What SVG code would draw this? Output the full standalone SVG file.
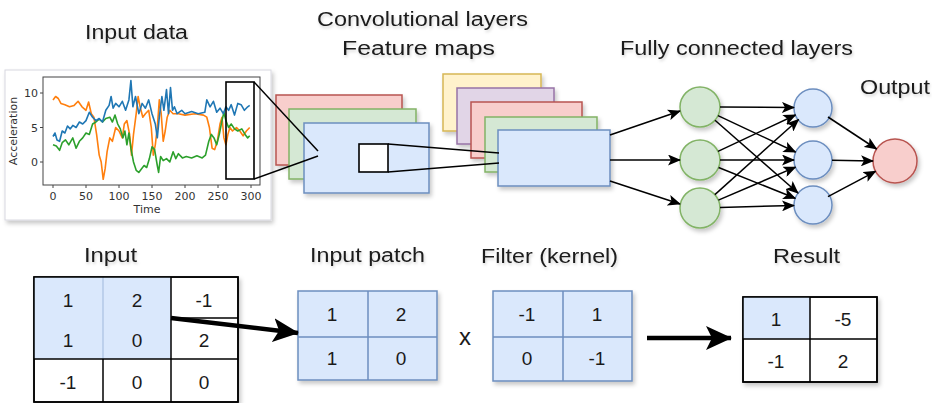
<svg xmlns="http://www.w3.org/2000/svg" width="932" height="403" viewBox="0 0 932 403">
<defs>
  <filter id="sh" x="-20%" y="-20%" width="150%" height="150%">
    <feDropShadow dx="2" dy="3" stdDeviation="2" flood-color="#000" flood-opacity="0.22"/>
  </filter>
  <filter id="tsh" x="-10%" y="-30%" width="120%" height="170%">
    <feDropShadow dx="1" dy="2" stdDeviation="1.5" flood-color="#000" flood-opacity="0.18"/>
  </filter>
  <marker id="ah" markerUnits="userSpaceOnUse" markerWidth="13" markerHeight="11" refX="12" refY="5.5" orient="auto">
    <path d="M0,0 L13,5.5 L0,11 L3,5.5 Z" fill="#000"/>
  </marker>
  <marker id="bah" markerUnits="userSpaceOnUse" markerWidth="26" markerHeight="24" refX="25" refY="12" orient="auto">
    <path d="M0,0 L26,12 L0,24 L6,12 Z" fill="#000"/>
  </marker>
</defs>
<style>
  .t{font-family:"Liberation Sans",Arial,sans-serif;font-size:20px;fill:#1a1a1a;text-anchor:middle;}
  .n{font-family:"Liberation Sans",Arial,sans-serif;font-size:19px;fill:#1a1a1a;text-anchor:middle;}
  .ax{font-family:"DejaVu Sans","Liberation Sans",sans-serif;font-size:11px;fill:#333;}
  .blue{fill:#dae8fc;stroke:#6c8ebf;stroke-width:1.5;}
  .green{fill:#d5e8d4;stroke:#82b366;stroke-width:1.5;}
  .red{fill:#f8cecc;stroke:#b85450;stroke-width:1.5;}
  .yellow{fill:#fff2cc;stroke:#d6b656;stroke-width:1.5;}
  .purple{fill:#e1d5e7;stroke:#9673a6;stroke-width:1.5;}
  .edge{stroke:#000;stroke-width:1.5;fill:none;marker-end:url(#ah);}
  .big{stroke:#000;stroke-width:4.5;fill:none;marker-end:url(#bah);}
  .ser{fill:none;stroke-width:1.6;stroke-linejoin:round;}
</style>
<rect width="932" height="403" fill="#fff"/>

<!-- Titles -->
<g id="labels" filter="url(#tsh)">
  <text class="t" x="136.5" y="39" textLength="103" lengthAdjust="spacingAndGlyphs">Input data</text>
  <text class="t" x="422.5" y="26" textLength="211" lengthAdjust="spacingAndGlyphs">Convolutional layers</text>
  <text class="t" x="418.5" y="55" textLength="153" lengthAdjust="spacingAndGlyphs">Feature maps</text>
  <text class="t" x="736.5" y="55" textLength="233" lengthAdjust="spacingAndGlyphs">Fully connected layers</text>
  <text class="t" x="895" y="94" textLength="70" lengthAdjust="spacingAndGlyphs">Output</text>
  <text class="t" x="110.5" y="262" textLength="53" lengthAdjust="spacingAndGlyphs">Input</text>
  <text class="t" x="367.5" y="262" textLength="115" lengthAdjust="spacingAndGlyphs">Input patch</text>
  <text class="t" x="549.5" y="263" textLength="137" lengthAdjust="spacingAndGlyphs">Filter (kernel)</text>
  <text class="t" x="806.5" y="263" textLength="67" lengthAdjust="spacingAndGlyphs">Result</text>
</g>

<!-- Input data plot -->
<g id="plot">
  <rect x="5" y="70" width="266" height="150" fill="#fff" stroke="#d8d8e0" stroke-width="1" filter="url(#sh)"/>
  <rect x="43" y="77" width="217" height="108" fill="#fff" stroke="#444" stroke-width="1"/>
  <g stroke="#444" stroke-width="1">
    <line x1="40" y1="93" x2="43" y2="93"/><line x1="40" y1="127.5" x2="43" y2="127.5"/><line x1="40" y1="162" x2="43" y2="162"/>
    <line x1="53" y1="185" x2="53" y2="188"/><line x1="86" y1="185" x2="86" y2="188"/><line x1="119" y1="185" x2="119" y2="188"/>
    <line x1="152" y1="185" x2="152" y2="188"/><line x1="185" y1="185" x2="185" y2="188"/><line x1="218" y1="185" x2="218" y2="188"/><line x1="251" y1="185" x2="251" y2="188"/>
  </g>
  <g class="ax" text-anchor="end">
    <text x="38" y="97">10</text><text x="38" y="131.5">5</text><text x="38" y="166">0</text>
  </g>
  <g class="ax" text-anchor="middle">
    <text x="53" y="200">0</text><text x="86" y="200">50</text><text x="119" y="200">100</text><text x="152" y="200">150</text>
    <text x="185" y="200">200</text><text x="218" y="200">250</text><text x="251" y="200">300</text>
    <text x="147" y="213">Time</text>
    <text x="0" y="0" transform="translate(17,131) rotate(-90)">Acceleration</text>
  </g>
  <polyline class="ser" stroke="#ff7f0e" points="53,99.9 55.6,96.5 58.3,98.5 60.9,103.4 64.9,104.7 69.5,106.8 74.1,105.4 78.1,101.3 82,106.8 86,110.3 88.6,102 91.3,113.7 93.9,117.2 96.6,134.4 99.2,155.1 101.2,162 103.2,179.3 105.1,168.9 107.1,151.7 109.8,137.9 112.4,141.3 115.7,127.5 119,131 122.3,137.9 124.3,124 126.9,120.6 129.6,134.4 131.5,155.1 133.5,134.4 136.2,113.7 138.1,96.5 140.1,106.8 142.8,117.2 145.4,113.7 148.7,110.3 151.3,127.5 153.3,155.1 155.3,144.8 157.3,127.5 159.3,99.9 161.2,113.7 163.2,141.3 165.2,131 167.2,117.2 169.8,110.3 173.1,113.7 178.4,113.7 185,115.1 194.9,113.7 203.5,115.1 206.8,117.2 209.4,127.5 212.1,148.2 214.7,149.6 217.3,141.3 220,124 222,117.2 223.9,137.9 225.9,144.8 227.9,134.4 229.9,127.5 232.5,131 236.5,127.5 239.8,131 243.1,135.8 246.4,131 249.7,127.5"/>
  <polyline class="ser" stroke="#2ca02c" points="53,144.8 56.3,146.1 59.6,150.3 62.2,142.7 65.5,139.9 68.8,144.8 72.8,137.9 76.1,148.2 79.4,141.3 82.7,137.9 86,133 89.3,134.4 92.6,124 95.9,122 99.2,119.2 102.5,122 105.8,118.5 109.8,117.2 112.4,122 115,115.1 117.7,124 120.3,128.9 122.9,137.9 124.9,131 126.9,144.8 128.9,133 130.9,148.2 133.5,162 136.2,170.3 138.8,172.4 141.4,168.9 144.1,165.5 146.7,167.5 149.4,158.6 152,146.8 154.6,149.6 157.3,165.5 158.6,172.4 160.6,156.5 163.2,160.6 166.5,158.6 169.8,162 173.1,151.7 175.8,158.6 178.4,153.7 182.4,157.9 186.3,156.5 191.6,157.9 196.9,155.8 202.2,157.9 205.5,155.1 208.8,141.3 211.4,134.4 214,137.9 216.7,144.8 219.3,134.4 222,120.6 223.9,112.3 225.9,120.6 228.6,127.5 231.2,124 234.5,128.9 237.8,131 241.8,128.9 245.1,134.4 247.7,137.9 249.7,135.8"/>
  <polyline class="ser" stroke="#1f77b4" points="53,136.5 55,133 57,140 59.6,141.3 62.2,131 64.9,133 67.5,126 70.2,128.9 72.8,125.4 76.1,127.5 79.4,122 82.7,124 86,120.6 89.3,112.3 92.6,117.2 95.9,120.6 99.2,118.5 102.5,122 105.8,110.3 109.1,105.4 111.1,96.5 113.1,108.2 115.7,103.4 119,106.8 122.3,101.3 125.6,110.3 128.9,99.9 130.9,80.6 132.9,106.8 135.5,96.5 138.8,113.7 142.1,103.4 145.4,108.2 148.7,99.9 152,113.7 155.3,124 157.3,137.8 159.3,117.2 161.9,96.5 163.9,110.3 166.5,89.5 168.5,113.7 170.5,87.5 172.5,110.3 174.4,106.8 177.1,113.7 181.7,110.3 185,113.7 191.6,111.6 198.2,113.7 204.8,112.3 206.8,99.9 210.1,106.8 213.4,101.3 216.7,112.3 220,108.2 223.3,113.7 225.9,106.8 228.6,110.3 231.2,104.7 234.5,115.1 237.8,103.4 241.1,104.7 244.4,110.3 247.7,106.8 249.7,105.4"/>
  <rect x="226" y="82" width="28" height="97" fill="none" stroke="#000" stroke-width="1.6"/>
</g>

<!-- Convolutional layer stack 1 -->
<g id="conv1" filter="url(#sh)">
  <rect class="red" x="276" y="95" width="126" height="70"/>
  <rect class="green" x="289" y="109" width="127" height="70"/>
  <rect class="blue" x="304" y="123" width="125" height="70"/>
</g>
<g id="patch">
  <rect x="359" y="144" width="29" height="28" fill="#fff" stroke="#000" stroke-width="1.6"/>
</g>

<!-- Feature maps stack 2 -->
<g id="conv2" filter="url(#sh)">
  <rect class="yellow" x="443" y="74" width="98" height="57"/>
  <rect class="purple" x="457" y="88" width="97" height="56"/>
  <rect class="red" x="471" y="102" width="111" height="56"/>
  <rect class="green" x="485" y="117" width="112" height="55"/>
  <rect class="blue" x="498" y="130" width="112" height="56"/>
</g>

<!-- Fully connected nodes -->
<g id="g1" filter="url(#sh)"><circle class="green" cx="700" cy="107" r="20"/></g>
<g id="g2" filter="url(#sh)"><circle class="green" cx="700" cy="160" r="20"/></g>
<g id="g3" filter="url(#sh)"><circle class="green" cx="700" cy="208" r="20"/></g>
<g id="b1" filter="url(#sh)"><circle class="blue" cx="813" cy="108" r="19"/></g>
<g id="b2" filter="url(#sh)"><circle class="blue" cx="813" cy="160" r="19"/></g>
<g id="b3" filter="url(#sh)"><circle class="blue" cx="813" cy="205" r="19"/></g>
<g id="out" filter="url(#sh)"><circle class="red" cx="895" cy="161" r="22"/></g>

<!-- Bottom grids -->
<g id="inputGrid" filter="url(#sh)">
  <rect x="34" y="277" width="204" height="125" fill="#fff" stroke="#000" stroke-width="1.5"/>
  <rect x="34" y="277" width="137" height="82" fill="#dae8fc"/>
  <line x1="103" y1="277" x2="103" y2="359" stroke="#9fb8dc" stroke-width="1"/>
  <line x1="171" y1="277" x2="171" y2="402" stroke="#000" stroke-width="1.5"/>
  <line x1="103" y1="359" x2="103" y2="402" stroke="#000" stroke-width="1.5"/>
  <line x1="34" y1="359" x2="238" y2="359" stroke="#000" stroke-width="1.5"/>
  <line x1="171" y1="318" x2="238" y2="318" stroke="#000" stroke-width="1.5"/>
  <rect x="34" y="277" width="204" height="125" fill="none" stroke="#000" stroke-width="1.5"/>
</g>
<g id="inputNums" class="n">
  <text x="68" y="307">1</text><text x="137" y="307">2</text><text x="204" y="307">-1</text>
  <text x="68" y="347">1</text><text x="137" y="347">0</text><text x="204" y="347">2</text>
  <text x="68" y="389">-1</text><text x="137" y="389">0</text><text x="204" y="389">0</text>
</g>

<g id="patchGrid" filter="url(#sh)">
  <rect class="blue" x="298" y="291" width="139" height="89"/>
  <line x1="368" y1="291" x2="368" y2="380" stroke="#6c8ebf" stroke-width="1.5"/>
  <line x1="298" y1="337" x2="437" y2="337" stroke="#6c8ebf" stroke-width="1.5"/>
</g>
<g id="patchNums" class="n">
  <text x="332" y="321">1</text><text x="401" y="321">2</text>
  <text x="332" y="365">1</text><text x="401" y="365">0</text>
</g>

<g id="times"><text class="n" x="465" y="345" style="font-size:24px">x</text></g>

<g id="filterGrid" filter="url(#sh)">
  <rect class="blue" x="493" y="291" width="139" height="90"/>
  <line x1="563" y1="291" x2="563" y2="381" stroke="#6c8ebf" stroke-width="1.5"/>
  <line x1="493" y1="337" x2="632" y2="337" stroke="#6c8ebf" stroke-width="1.5"/>
</g>
<g id="filterNums" class="n">
  <text x="527" y="321">-1</text><text x="597" y="321">1</text>
  <text x="527" y="365">0</text><text x="597" y="365">-1</text>
</g>

<g id="resultGrid" filter="url(#sh)">
  <rect x="743" y="297" width="134" height="85" fill="#fff" stroke="#000" stroke-width="1.5"/>
  <rect x="743" y="297" width="67" height="42" fill="#dae8fc"/>
  <line x1="810" y1="297" x2="810" y2="382" stroke="#000" stroke-width="1.5"/>
  <line x1="743" y1="339" x2="877" y2="339" stroke="#000" stroke-width="1.5"/>
  <rect x="743" y="297" width="134" height="85" fill="none" stroke="#000" stroke-width="1.5"/>
</g>
<g id="resultNums" class="n">
  <text x="776" y="326">1</text><text x="843" y="326">-5</text>
  <text x="776" y="368">-1</text><text x="843" y="368">2</text>
</g>

<!-- Connectors -->
<g id="connectors">
  <line x1="254" y1="82" x2="318" y2="151" stroke="#000" stroke-width="1.5"/>
  <line x1="254" y1="179" x2="318" y2="156" stroke="#000" stroke-width="1.5"/>
  <line x1="388" y1="144" x2="499" y2="153" stroke="#000" stroke-width="1.5"/>
  <line x1="388" y1="172" x2="499" y2="163" stroke="#000" stroke-width="1.5"/>
  <line class="edge" x1="610" y1="135" x2="680" y2="111"/>
  <line class="edge" x1="610" y1="160" x2="680" y2="160"/>
  <line class="edge" x1="610" y1="181" x2="680" y2="204"/>
  <line class="edge" x1="720" y1="107" x2="794" y2="107.5"/>
  <line class="edge" x1="718" y1="115.6" x2="795.5" y2="152"/>
  <line class="edge" x1="715" y1="120.2" x2="798" y2="193"/>
  <line class="edge" x1="718" y1="151.4" x2="795.5" y2="115"/>
  <line class="edge" x1="720" y1="160" x2="794" y2="160"/>
  <line class="edge" x1="718.6" y1="167.5" x2="795.3" y2="198.3"/>
  <line class="edge" x1="714.9" y1="194.6" x2="798.6" y2="119.5"/>
  <line class="edge" x1="718.4" y1="200.1" x2="795.5" y2="167.1"/>
  <line class="edge" x1="720" y1="207.5" x2="794" y2="205.5"/>
  <line class="edge" x1="828" y1="117" x2="876.6" y2="149"/>
  <line class="edge" x1="832" y1="160.2" x2="873" y2="161"/>
  <line class="edge" x1="828" y1="196.6" x2="875.6" y2="171.3"/>
  <line class="big" x1="171" y1="318" x2="298" y2="333"/>
  <line class="big" x1="647" y1="338" x2="731" y2="338"/>
</g>
</svg>
